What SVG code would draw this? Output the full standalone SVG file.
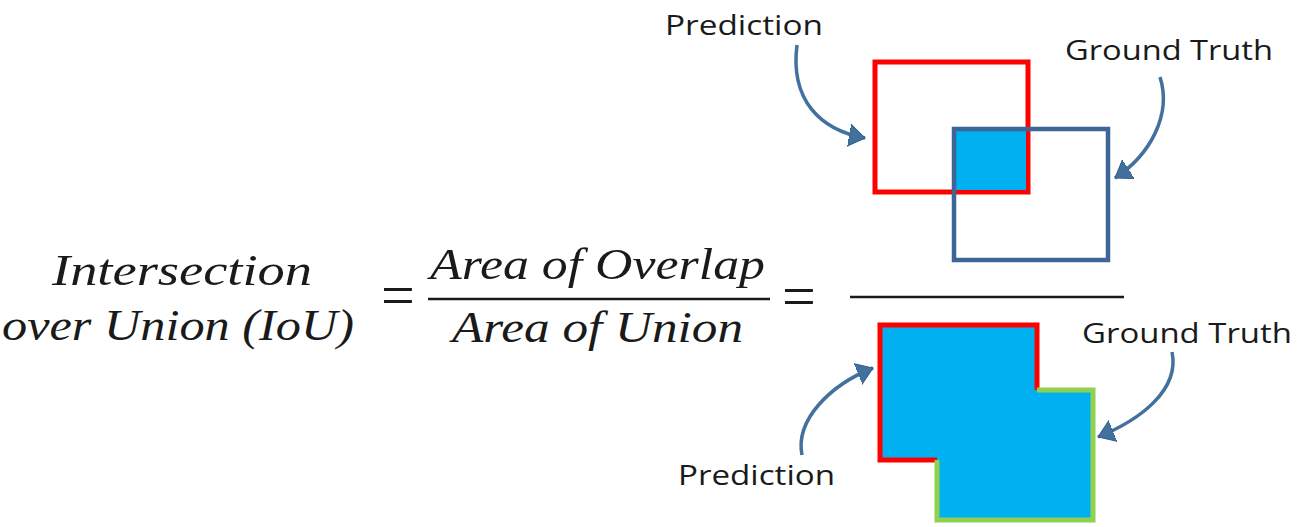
<svg xmlns="http://www.w3.org/2000/svg" width="1304" height="527" viewBox="0 0 1304 527">
<style>
.lbl{font-family:"Open Sans","Noto Sans",sans-serif;font-size:28px;fill:#1a1a1a}
.math{font-family:"Liberation Serif","DejaVu Serif",serif;font-style:italic;font-size:45px;fill:#1a1a1a}
.eq{font-family:"Liberation Serif","DejaVu Serif",serif;font-size:60px;fill:#1a1a1a}
.arrow{fill:none;stroke:#41719c;stroke-width:3.5}
.bar{stroke:#1a1a1a;stroke-width:2.5}
</style>
<defs>
<marker id="ah" markerUnits="userSpaceOnUse" markerWidth="20" markerHeight="24" refX="16" refY="12" orient="auto" viewBox="0 0 20 24">
<path d="M0,1 L16,12 L0,23 Z" fill="#41719c" stroke="#2f5f8a" stroke-width="1"/>
</marker>
</defs>
<rect width="1304" height="527" fill="#ffffff"/>
<g id="formula">
<text class="math" x="52" y="285" textLength="260" lengthAdjust="spacingAndGlyphs">Intersection</text>
<text class="math" x="2" y="340" textLength="352" lengthAdjust="spacingAndGlyphs">over Union (IoU)</text>
<text class="eq" x="398" y="315" text-anchor="middle">=</text>
<text class="math" x="430" y="279" textLength="335" lengthAdjust="spacingAndGlyphs">Area of Overlap</text>
<line class="bar" x1="428" y1="299" x2="770" y2="299"/>
<text class="math" x="452" y="342" textLength="291" lengthAdjust="spacingAndGlyphs">Area of Union</text>
<text class="eq" x="799" y="316" text-anchor="middle">=</text>
<line class="bar" x1="850" y1="297" x2="1124" y2="297"/>
</g>
<g id="top-boxes">
<rect x="875" y="62" width="153" height="130" fill="none" stroke="#ff0000" stroke-width="5"/>
<rect x="956" y="131" width="70" height="59" fill="#00b0f0"/>
<rect x="954" y="129" width="154" height="131" fill="none" stroke="#3d6596" stroke-width="4.5"/>
</g>
<g id="bottom-union">
<path d="M880,325 L1037,325 L1037,390 L1093,390 L1093,520 L937,520 L937,460 L880,460 Z" fill="#00b0f0"/>
<path d="M937,460 L880,460 L880,325 L1037,325 L1037,390" fill="none" stroke="#ff0000" stroke-width="5" stroke-linejoin="miter"/>
<path d="M1037,390 L1093,390 L1093,520 L937,520 L937,460" fill="none" stroke="#92d050" stroke-width="5" stroke-linejoin="miter"/>
</g>
<g id="labels">
<text class="lbl" x="665" y="35" textLength="158" lengthAdjust="spacingAndGlyphs">Prediction</text>
<text class="lbl" x="1065" y="60" textLength="208" lengthAdjust="spacingAndGlyphs">Ground Truth</text>
<text class="lbl" x="1082" y="343" textLength="210" lengthAdjust="spacingAndGlyphs">Ground Truth</text>
<text class="lbl" x="678" y="485" textLength="157" lengthAdjust="spacingAndGlyphs">Prediction</text>
</g>
<g id="connectors">
<path class="arrow" d="M797,45 C790,100 820,130 865,138" marker-end="url(#ah)"/>
<path class="arrow" d="M1160,77 C1172,115 1150,155 1115,178" marker-end="url(#ah)"/>
<path class="arrow" d="M802,455 C795,420 830,385 873,368" marker-end="url(#ah)"/>
<path class="arrow" d="M1172,352 C1180,390 1140,420 1098,437" marker-end="url(#ah)"/>
</g>
</svg>
